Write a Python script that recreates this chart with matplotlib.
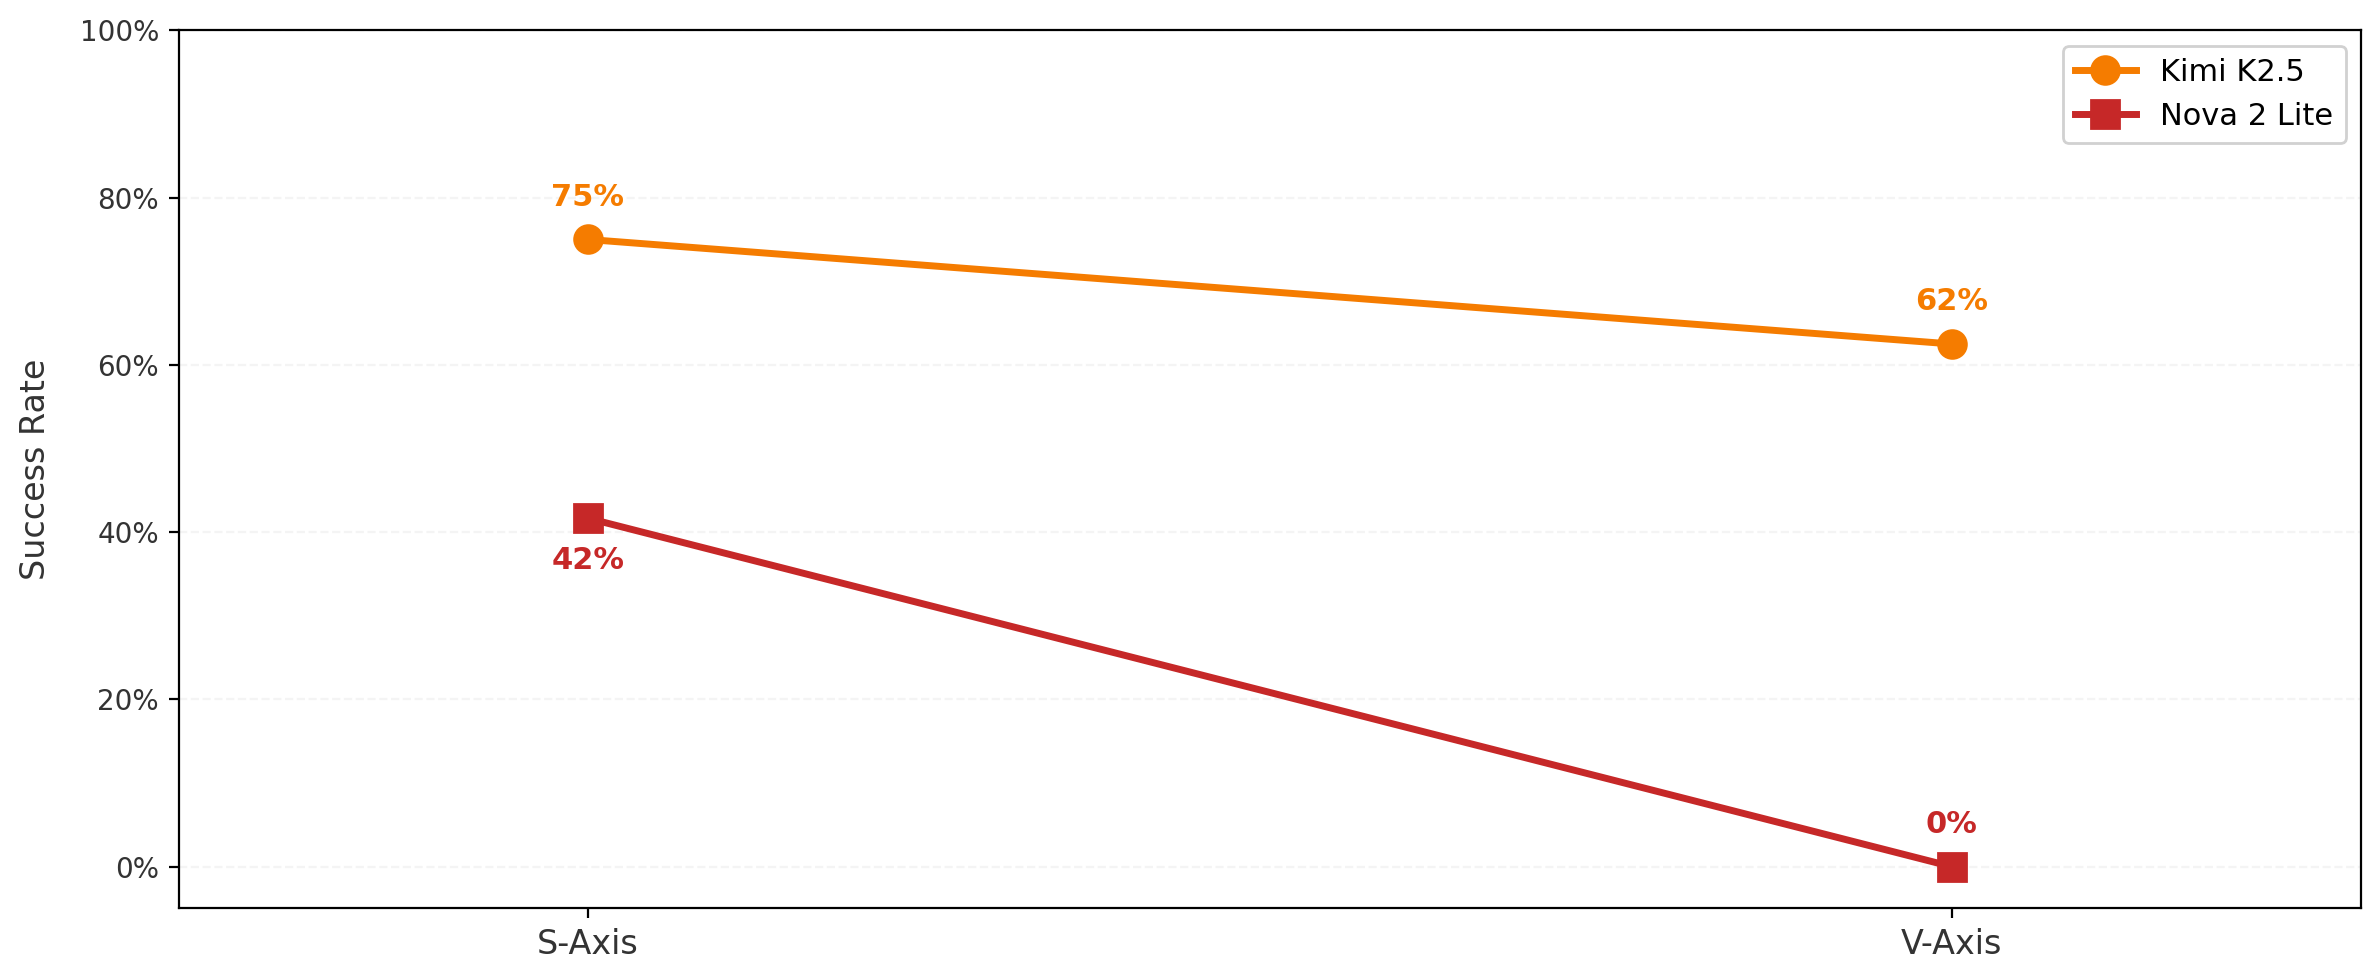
import matplotlib.pyplot as plt
from matplotlib.ticker import PercentFormatter

axes_names = ["S-Axis", "V-Axis"]
kimi_rates = [0.75, 0.625]
nova_rates = [0.4167, 0.0]
kimi_labels = ["75%", "62%"]
nova_labels = ["42%", "0%"]

kimi_color = "#F57C00"
nova_color = "#C62828"

fig, ax = plt.subplots(figsize=(11.9, 4.9), dpi=200)
fig.subplots_adjust(left=0.075, right=0.992, top=0.969, bottom=0.073)

x = list(range(len(axes_names)))
ax.plot(x, kimi_rates, color=kimi_color, marker="o", lw=2.5, ms=10, label="Kimi K2.5", zorder=3)
ax.plot(x, nova_rates, color=nova_color, marker="s", lw=2.5, ms=10, label="Nova 2 Lite", zorder=3)

# value labels
for xi, v, t in zip(x, kimi_rates, kimi_labels):
    ax.annotate(t, (xi, v), xytext=(0, 10), textcoords="offset points",
                ha="center", va="bottom", color=kimi_color, fontsize=11, fontweight="bold")
for xi, v, t in zip(x, nova_rates, nova_labels):
    if v > 0.2:
        ax.annotate(t, (xi, v), xytext=(0, -10), textcoords="offset points",
                    ha="center", va="top", color=nova_color, fontsize=11, fontweight="bold")
    else:
        ax.annotate(t, (xi, v), xytext=(0, 10), textcoords="offset points",
                    ha="center", va="bottom", color=nova_color, fontsize=11, fontweight="bold")

ax.set_xlim(-0.3, 1.3)
ax.set_ylim(-0.05, 1.0)
ax.set_xticks(x)
ax.set_xticklabels(axes_names, fontsize=12, color="#333333")
ax.set_yticks([0, 0.2, 0.4, 0.6, 0.8, 1.0])
ax.yaxis.set_major_formatter(PercentFormatter(1.0, decimals=0))
ax.tick_params(axis="y", labelsize=10, labelcolor="#333333")
ax.set_ylabel("Success Rate", fontsize=12, color="#333333", labelpad=10)
ax.grid(axis="y", linestyle="--", color="#dddddd", alpha=0.3, lw=0.8)
ax.set_axisbelow(True)

ax.legend(loc="upper right", fontsize=11, framealpha=0.9, edgecolor="#cccccc")

fig.savefig("out.png", dpi=200)
